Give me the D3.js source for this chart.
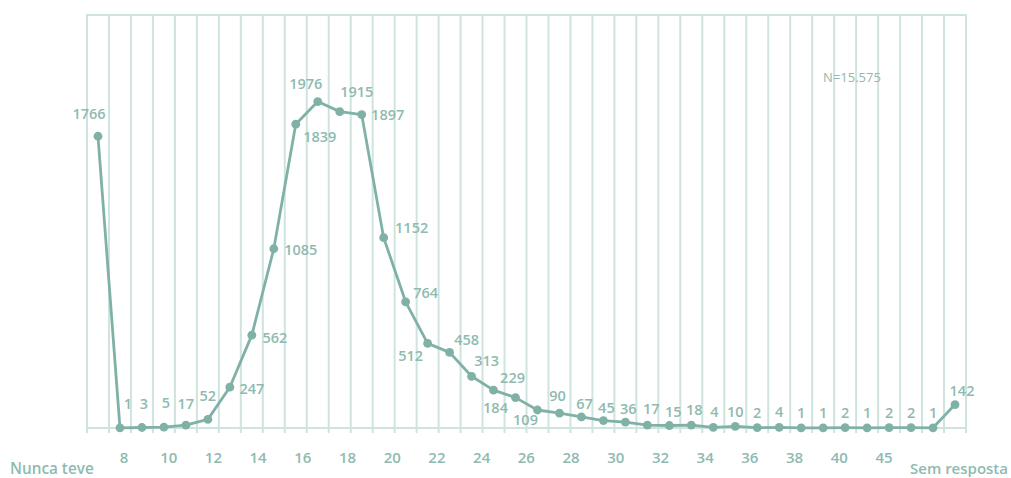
<!DOCTYPE html>
<html>
<head>
<meta charset="utf-8">
<script src="https://cdn.jsdelivr.net/npm/d3@7"></script>
<style>
  body { margin: 0; background: #fff; }
  text { font-family: "Open Sans", Lato, sans-serif; }
</style>
</head>
<body>
<div id="chart"></div>
<script>
// categories along the bottom (age at first ...)
const categories = ["Nunca teve"].concat(d3.range(8, 46).map(String), ["Sem resposta"]);

// counts for each category
const values = [1766, 1, 3, 5, 17, 52, 247, 562, 1085, 1839, 1976, 1915, 1897, 1152, 764,
    512, 458, 313, 229, 184, 109, 90, 67, 45, 36, 17, 15, 18, 4, 10,
    2, 4, 1, 1, 2, 1, 2, 2, 1, 142];

// labels printed under the axis
const tickLabels = ["8", "10", "12", "14", "16", "18", "20", "22", "24", "26", "28",
    "30", "32", "34", "36", "38", "40", "45"];

const totalLabel = "N=15.575";

// where each value label sits relative to its dot (dx, dy of baseline)
const labelOffset = [
    [-9, -17], [8, -19], [2, -19], [2, -19], [0, -16], [0, -18], [22, 7], [23, 8], [27, 6],
    [24, 18], [-12, -13], [17, -15], [26, 5], [28, -5], [20, -4], [-17, 18], [17, -7],
    [15, -10], [19, -7], [-20, 15], [-12, 15], [-2, -12], [3, -8], [3, -8], [3, -8],
    [4, -11], [4, -9], [3, -10], [1, -10], [0, -9], [0, -10], [0, -10], [0, -10],
    [0, -10], [0, -10], [0, -10], [0, -10], [0, -10], [0, -10], [7, -9]
];

const width = 1011, height = 478;
const yTop = 15, yBase = 428;

const lineColor = "#80b1a6";
const textColor = "#8fbab0";
const gridColor = "#cfe3df";

const svg = d3.select("#chart").append("svg")
    .attr("width", width)
    .attr("height", height);

const x = d3.scaleBand()
    .domain(categories)
    .range([87, 966])
    .padding(0);

const y = d3.scaleLinear()
    .domain([0, 2500])
    .range([yBase, yTop]);

// vertical grid lines at band edges
const edges = categories.map(c => x(c)).concat([x.range()[1]]);
svg.selectAll("line.grid")
    .data(edges)
    .join("line")
    .attr("class", "grid")
    .attr("x1", d => d)
    .attr("x2", d => d)
    .attr("y1", yTop)
    .attr("y2", yBase + 5)
    .attr("stroke", gridColor)
    .attr("stroke-width", 2);

// top and bottom frame lines
svg.selectAll("line.hframe")
    .data([yTop, yBase])
    .join("line")
    .attr("class", "hframe")
    .attr("x1", x.range()[0] - 1)
    .attr("x2", x.range()[1] + 1)
    .attr("y1", d => d)
    .attr("y2", d => d)
    .attr("stroke", gridColor)
    .attr("stroke-width", 2);

const cx = d => x(d) + x.bandwidth() / 2;

const data = categories.map((c, i) => ({cat: c, value: values[i], off: labelOffset[i]}));

const line = d3.line()
    .x(d => cx(d.cat))
    .y(d => y(d.value));

svg.append("path")
    .datum(data)
    .attr("fill", "none")
    .attr("stroke", lineColor)
    .attr("stroke-width", 2.8)
    .attr("stroke-linejoin", "round")
    .attr("d", line);

svg.selectAll("circle")
    .data(data)
    .join("circle")
    .attr("cx", d => cx(d.cat))
    .attr("cy", d => y(d.value))
    .attr("r", 4.4)
    .attr("fill", lineColor);

// value labels
svg.selectAll("text.val")
    .data(data)
    .join("text")
    .attr("class", "val")
    .attr("x", d => cx(d.cat) + d.off[0])
    .attr("y", d => y(d.value) + d.off[1])
    .attr("text-anchor", "middle")
    .attr("font-size", 14.5)
    .attr("font-weight", 600)
    .attr("fill", textColor)
    .text(d => d.value);

// tick labels under the axis
const xt = d3.scalePoint()
    .domain(tickLabels)
    .range([124, 884]);

svg.selectAll("text.tick")
    .data(tickLabels)
    .join("text")
    .attr("class", "tick")
    .attr("x", d => xt(d))
    .attr("y", 463)
    .attr("text-anchor", "middle")
    .attr("font-size", 15)
    .attr("font-weight", 600)
    .attr("fill", textColor)
    .text(d => d);

svg.append("text")
    .attr("x", 10)
    .attr("y", 474)
    .attr("font-size", 15.3)
    .attr("font-weight", 600)
    .attr("fill", textColor)
    .text(categories[0]);

svg.append("text")
    .attr("x", 1008)
    .attr("y", 474)
    .attr("text-anchor", "end")
    .attr("font-size", 15)
    .attr("font-weight", 600)
    .attr("fill", textColor)
    .text(categories[categories.length - 1]);

svg.append("text")
    .attr("x", 852)
    .attr("y", 82)
    .attr("text-anchor", "middle")
    .attr("font-size", 13)
    .attr("fill", textColor)
    .text(totalLabel);
</script>
</body>
</html>
